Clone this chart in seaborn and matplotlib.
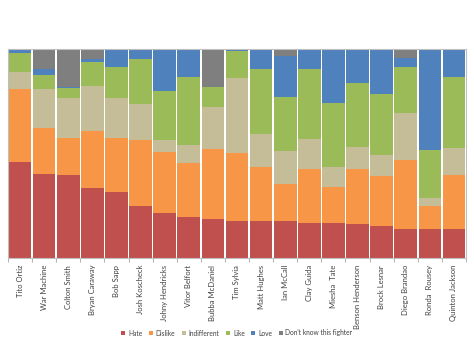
import numpy as np
import pandas as pd
import matplotlib
matplotlib.use("Agg")
import matplotlib.pyplot as plt
from matplotlib.patches import Patch
import seaborn as sns

fighters = ["Tito Ortiz", "War Machine", "Colton Smith", "Bryan Caraway", "Bob Sapp",
            "Josh Koscheck", "Johny Hendricks", "Vitor Belfort", "Bubba McDaniel",
            "Tim Sylvia", "Matt Hughes", "Ian McCall", "Clay Guida", "Miesha  Tate",
            "Benson Henderson", "Brock Lesnar", "Diego Brandao", "Ronda  Rousey",
            "Quinton Jackson"]

# share of respondents (%) per opinion
hate        = [45.7, 40.2, 39.7, 33.3, 31.4, 24.8, 21.6, 19.5, 18.6, 17.6, 17.6, 17.6, 16.8, 16.8, 16.5, 15.1, 14.0, 14.0, 13.7]
dislike     = [35.2, 22.2, 17.6, 27.5, 26.0, 31.6, 29.4, 26.0, 33.8, 32.5, 26.0, 17.9, 26.0, 17.0, 26.0, 24.3, 32.9, 11.1, 26.2]
indifferent = [ 8.1, 18.6, 19.2, 21.4, 19.0, 17.3,  5.6,  8.7, 20.0, 35.7, 15.7, 15.9, 14.0,  9.8, 10.8,  9.8, 22.7,  3.5, 12.5]
like        = [ 9.0,  6.8,  4.8, 11.4, 14.9, 21.7, 23.3, 32.2,  9.4, 13.0, 31.0, 25.6, 33.8, 30.6, 30.5, 29.5, 21.7, 23.0, 34.1]
love        = [ 1.9,  2.9,  0.5,  1.6,  8.6,  4.6, 20.2, 13.5,  0.0,  1.1,  9.7, 19.5,  9.4, 25.7, 16.2, 21.3,  4.4, 48.4, 13.5]
dont_know   = [ 0.0,  9.4, 18.3,  4.8,  0.0,  0.0,  0.0,  0.0, 18.3,  0.0,  0.0,  3.5,  0.0,  0.0,  0.0,  0.0,  4.3,  0.0,  0.0]

series = ["Hate", "Dislike", "Indifferent", "Like", "Love", "Don't know this fighter"]
colors = ["#C0504D", "#F79646", "#C4BD97", "#9BBB59", "#4F81BD", "#7F7F7F"]

vals = np.array([hate, dislike, indifferent, like, love, dont_know])
vals = vals / vals.sum(axis=0)          # 100% stacked
cum = np.cumsum(vals, axis=0)

sns.set_theme(style="white")
plt.rcParams["font.family"] = ["Lato", "DejaVu Sans"]

fig = plt.figure(figsize=(4.74, 3.45), dpi=100)
ax = fig.add_axes([8 / 474, 87 / 345, 458 / 474, 209 / 345])

# draw tallest cumulative layer first so lower layers sit on top
for i in range(len(series) - 1, -1, -1):
    df = pd.DataFrame({"fighter": fighters, "value": cum[i]})
    sns.barplot(data=df, x="fighter", y="value", color=colors[i], saturation=1,
                width=0.94, linewidth=0, ax=ax, order=fighters)

ax.set_xlim(-0.5, len(fighters) - 0.5)
ax.set_ylim(0, 1)
ax.set_xlabel("")
ax.set_ylabel("")
ax.set_yticks([])
ax.set_xticks(range(len(fighters)))
ax.set_xticklabels(fighters, rotation=90, fontsize=5.5, color="#404040")
ax.tick_params(axis="x", length=0, pad=5)
# tick marks between categories
ax.set_xticks(np.arange(-0.5, len(fighters), 1.0), minor=True)
ax.tick_params(axis="x", which="minor", length=3, width=0.6, color="#A6A6A6", bottom=True)
for s in ax.spines.values():
    s.set_color("#BFBFBF")
    s.set_linewidth(0.8)

handles = [Patch(facecolor=c, edgecolor="none", label=l) for c, l in zip(colors, series)]
fig.legend(handles=handles, loc="center", bbox_to_anchor=(237 / 474, 1 - 333 / 345),
           ncol=6, frameon=False, fontsize=4.8, handlelength=0.6, handleheight=0.6,
           handletextpad=0.4, columnspacing=1.0, labelcolor="#404040")

fig.savefig("out.png", dpi=100)
